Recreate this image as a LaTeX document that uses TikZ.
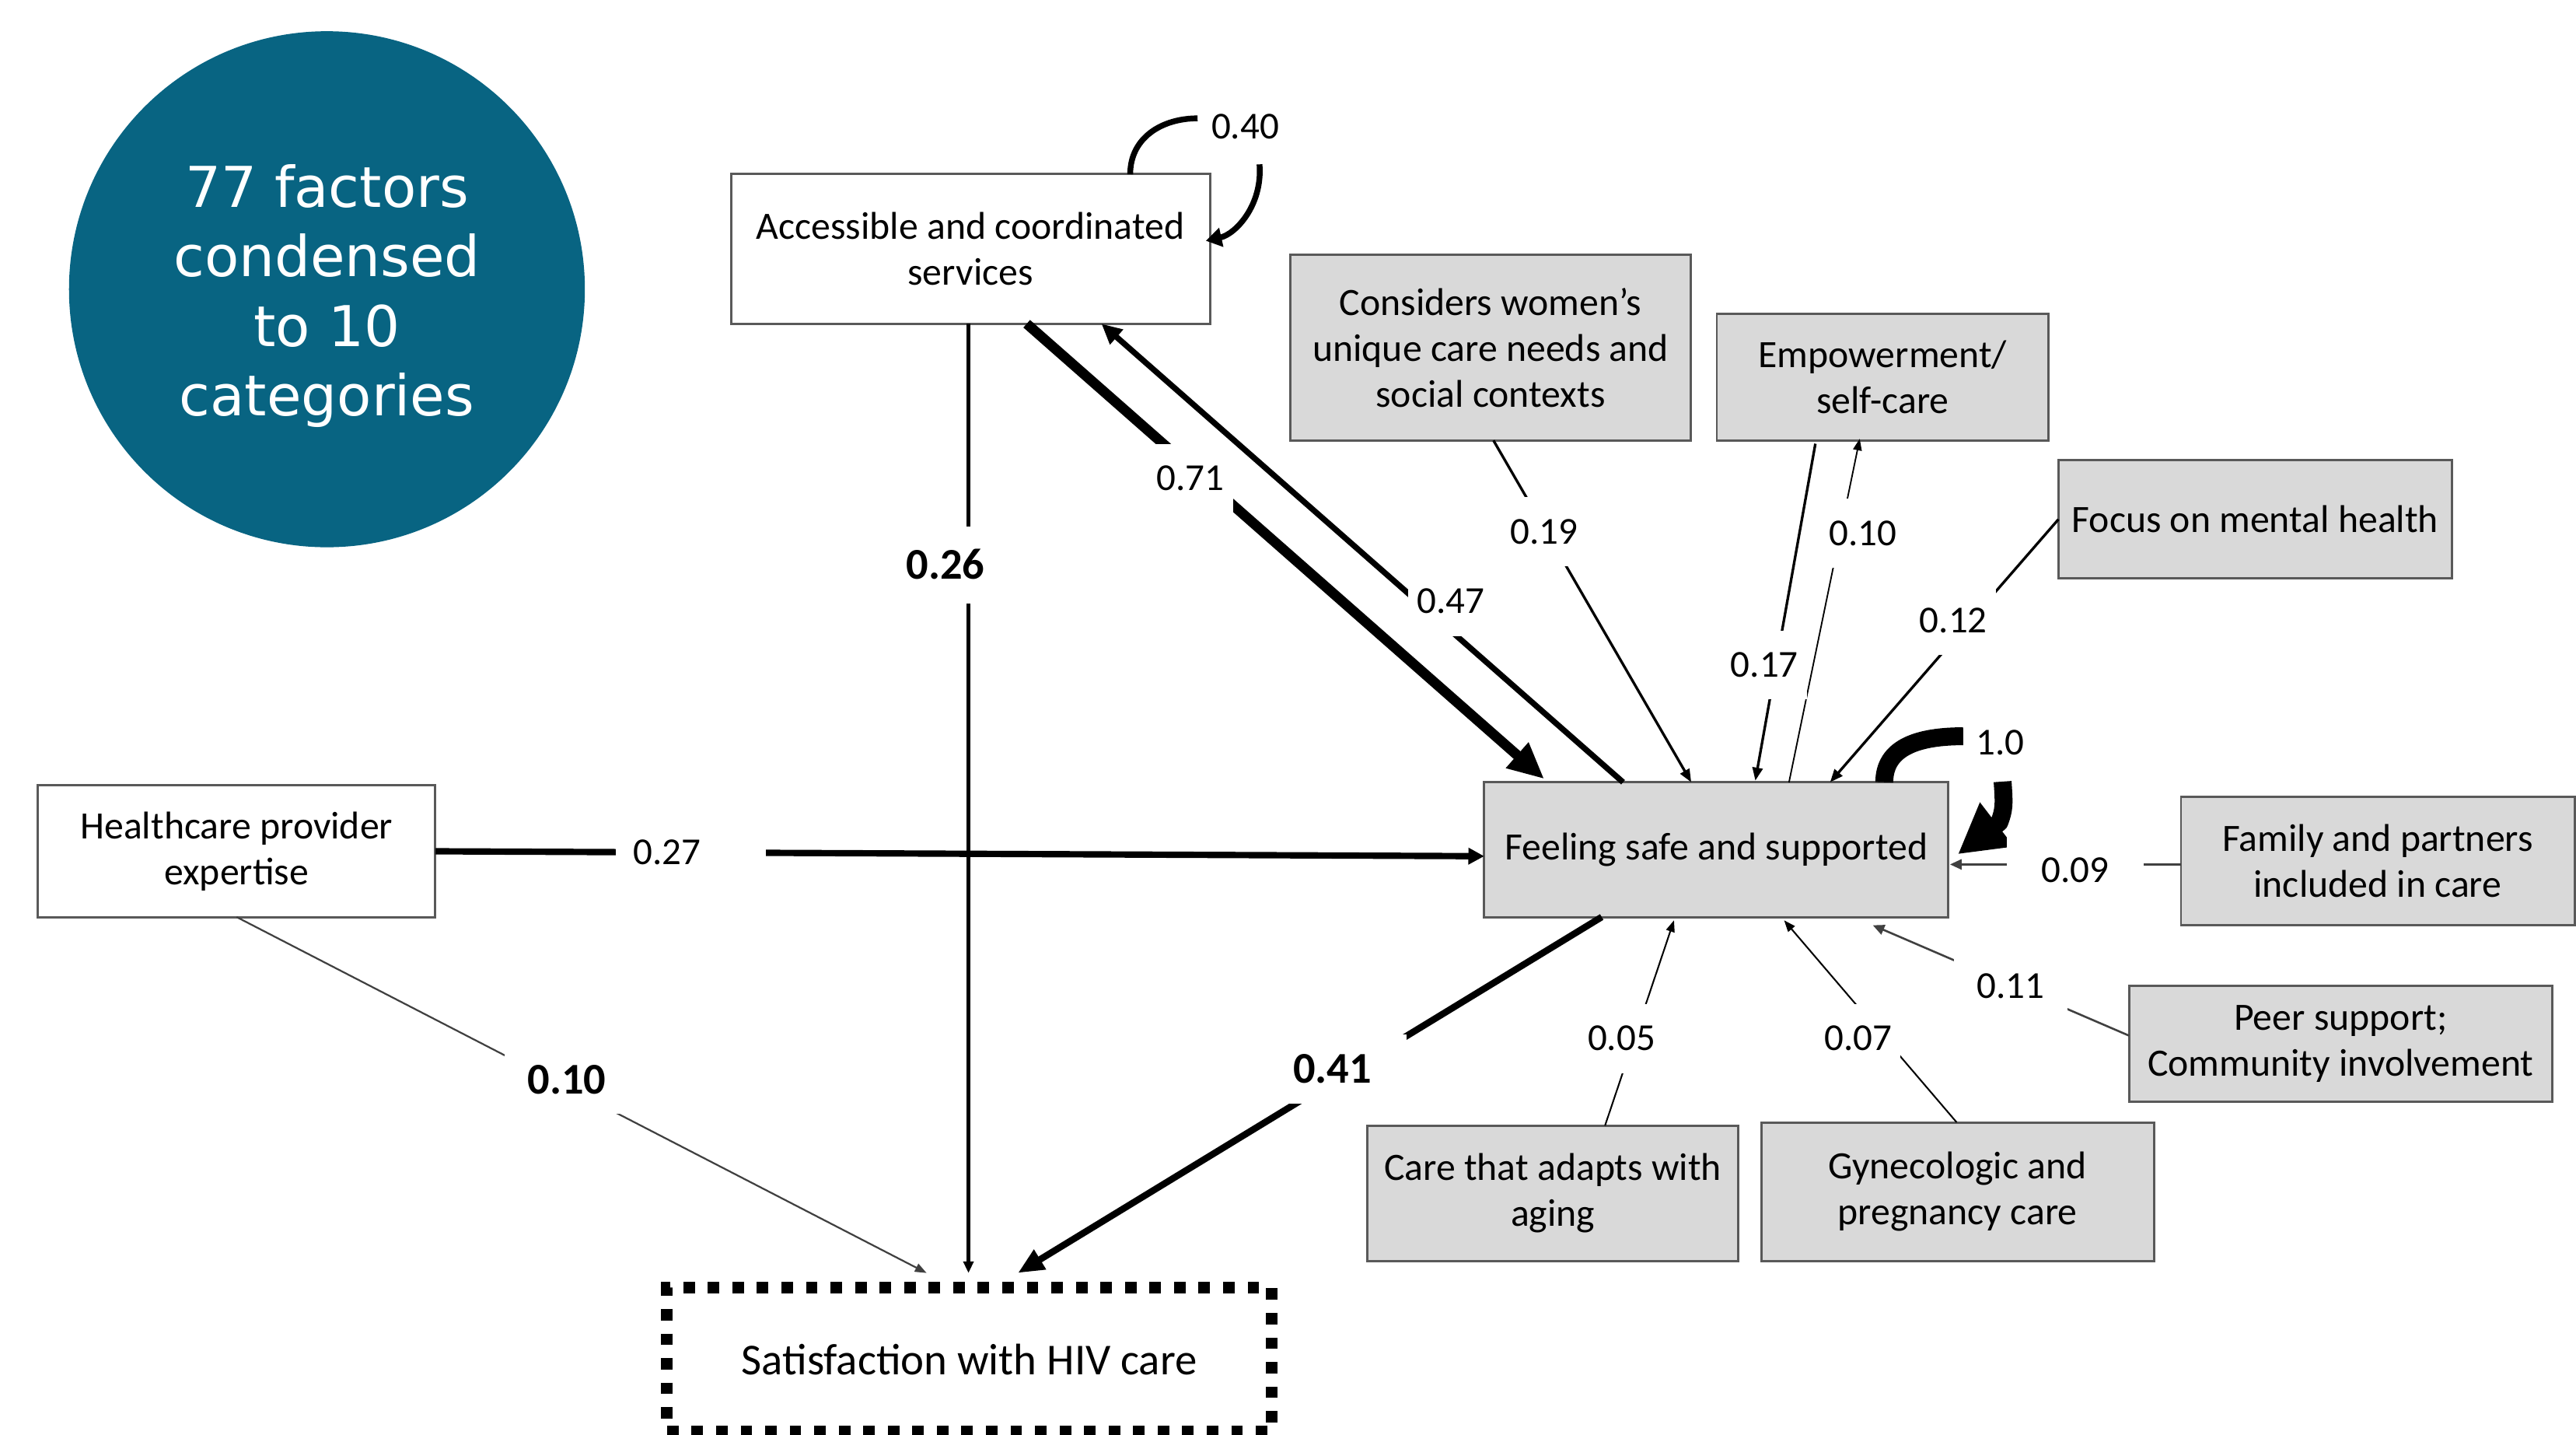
\documentclass[tikz,border=0pt]{standalone}
\usepackage{fontspec}
\setmainfont{Carlito}
\newfontfamily\circfont{DejaVu Sans}
\usetikzlibrary{arrows.meta,calc}
\definecolor{tealc}{RGB}{8,100,130}
\definecolor{boxgray}{RGB}{217,217,217}
\begin{document}
\begin{tikzpicture}[x=0.02cm,y=-0.02cm,
  box/.style={draw=black!65, line width=0.8pt, inner sep=0pt, outer sep=0pt, align=center, font=\fontsize{13.4}{15.9}\selectfont},
  wbox/.style={box, fill=white},
  gbox/.style={box, fill=boxgray},
  lbl/.style={fill=white, inner xsep=3pt, inner ysep=7.7pt, text height=8.4pt, text depth=0pt, font=\fontsize{13.2}{15.9}\selectfont},
  blbl/.style={fill=white, inner xsep=6pt, inner ysep=7.1pt, text height=9.6pt, text depth=0pt, font=\fontsize{15.2}{18}\selectfont\bfseries},
  tip/.style 2 args={arrows={-Triangle[length=#1,width=#2]}},
]
\useasboundingbox (0,0) rectangle (1568,873);

% ---------- nodes ----------
\node[circle, fill=tealc, minimum size=314*0.02cm, inner sep=0pt, text=white, align=center,
      font=\circfont\fontsize{19.5}{24.1}\selectfont] (circ) at (199,176) {\rule{0pt}{19.5pt}77 factors\\condensed\\to 10\\categories};

\node[wbox, minimum width=291.5*0.02cm, minimum height=91*0.02cm] (acc) at (590.7,151.5) {Accessible and coordinated\\services};
\node[gbox, minimum width=243.5*0.02cm, minimum height=113*0.02cm] (cons) at (907.3,211.5) {Considers women’s\\unique care needs and\\social contexts};
\node[gbox, minimum width=202*0.02cm, minimum height=77*0.02cm] (emp) at (1146,229.5) {Empowerment/\\self-care};
\node[gbox, minimum width=239.5*0.02cm, minimum height=72*0.02cm] (focus) at (1372.7,316) {Focus on mental health};
\node[gbox, minimum width=282.5*0.02cm, minimum height=82*0.02cm] (feel) at (1044.7,517) {Feeling safe and supported};
\node[gbox, minimum width=239.5*0.02cm, minimum height=78*0.02cm] (fam) at (1447.3,524) {Family and partners\\included in care};
\node[gbox, minimum width=257.5*0.02cm, minimum height=70.5*0.02cm] (peer) at (1424.7,635.2) {Peer support;\\Community involvement};
\node[gbox, minimum width=225.5*0.02cm, minimum height=82.5*0.02cm] (care) at (945.2,726.2) {Care that adapts with\\aging};
\node[gbox, minimum width=239*0.02cm, minimum height=84.5*0.02cm] (gyn) at (1191.5,725.2) {Gynecologic and\\pregnancy care};
\node[wbox, minimum width=242*0.02cm, minimum height=80*0.02cm] (hc) at (144,518) {Healthcare provider\\expertise};
\node[draw=black, line width=4pt, dash pattern=on 4pt off 4.5pt, fill=white, inner sep=0pt, outer sep=0pt,
      minimum width=368*0.02cm, minimum height=87.4*0.02cm, font=\fontsize{15.3}{18}\selectfont] (sat) at (590,827.3) {Satisfaction with HIV care};

% ---------- connectors ----------
% 0.26
\draw[line width=1.25pt, tip={4pt}{3.5pt}] ($(acc.south west)+(144.5,0)$) -- ($(sat.north west)+(183.5,-9)$);
% 0.71
\draw[line width=3.5pt, tip={12.5pt}{11pt}] ($(acc.south west)+(180,0)$) -- ($(feel.north west)+(36.5,-2)$);
% 0.47
\draw[line width=2pt, tip={7pt}{6.5pt}] ($(feel.north west)+(84.5,0)$) -- ($(acc.south west)+(225.5,0)$);
% 0.19
\draw[line width=0.9pt, tip={4.5pt}{3.5pt}] ($(cons.south west)+(123.5,0)$) -- ($(feel.north west)+(126,0)$);
% 0.17
\draw[line width=0.9pt, tip={4.5pt}{3.5pt}] ($(emp.south west)+(60,2)$) -- ($(feel.north west)+(165,-1)$);
% 0.10 (to empowerment)
\draw[line width=0.5pt, tip={4pt}{3pt}] ($(feel.north west)+(185.5,0)$) -- ($(emp.south west)+(87,-1)$);
% 0.12
\draw[line width=0.9pt, tip={4.5pt}{3.5pt}] (focus.west) -- ($(feel.north west)+(210.5,0)$);
% 1.0 self loop
\draw[line width=6.2pt] ($(feel.north west)+(243.5,0)$) .. controls +(0,-22) and +(-26,0) .. ($(feel.north west)+(291.5,-28)$);
\draw[line width=6.2pt, line join=round, tip={17pt}{18pt}] ($(feel.north east)+(33,-0.4)$) .. controls +(1,14) and +(3,-8) .. ($(feel.north east)+(31,24.5)$) -- ($(feel.east)+(5.8,2.8)$);
% 0.40 self loop
\draw[line width=2pt] ($(acc.north west)+(243,0)$) .. controls +(0,-22) and +(-22,0) .. ($(acc.north east)+(-7.5,-34)$);
\draw[line width=2pt, tip={5.5pt}{6.5pt}] ($(acc.north east)+(30.2,-6)$) .. controls +(2,25) and +(18,-4) .. ($(acc.east)+(-2.5,-5)$);
% 0.27
\draw[line width=2.2pt, tip={5.5pt}{5.5pt}] (hc.east) -- ($(feel.west)+(0,4)$);
% 0.10 (healthcare -> satisfaction)
\draw[line width=0.6pt, black!75, tip={4pt}{3pt}] (hc.south) -- ($(sat.north west)+(158,-9)$);
% 0.41
\draw[line width=2.3pt, tip={9pt}{7.5pt}] ($(feel.south west)+(71.5,0)$) -- ($(sat.north west)+(213.6,-9)$);
% 0.09
\draw[line width=0.7pt, black!75, tip={4pt}{3.5pt}] ($(fam.west)+(0,2)$) -- ($(feel.east)+(1,9)$);
% 0.11
\draw[line width=0.7pt, black!75, tip={4pt}{3.5pt}] ($(peer.west)+(0,-5)$) -- ($(feel.south east)+(-46,5)$);
% 0.05
\draw[line width=0.55pt, tip={4pt}{3pt}] ($(care.north west)+(144.5,0)$) -- ($(feel.south west)+(115.5,2)$);
% 0.07
\draw[line width=0.55pt, tip={4pt}{3pt}] ($(gyn.north west)+(119,0)$) -- ($(feel.south west)+(182.5,2)$);

% ---------- labels ----------
\node[lbl] (l040) at (758,77) {0.40};
\node[blbl, inner ysep=8.5pt] (l026) at (575.5,344) {0.26};
\node[lbl] (l071) at (724.6,291) {0.71};
\node[lbl] (l047) at (883,366) {0.47};
\node[lbl] (l019) at (940,323.5) {0.19};
\node[lbl] (l010e) at (1134,324.5) {0.10};
\node[lbl] (l017) at (1074,404.5) {0.17};
\node[lbl] (l012) at (1189,377.5) {0.12};
\node[lbl] (l10) at (1217.5,452) {1.0};
\node[lbl, inner xsep=6pt] (l027) at (420.5,518.5) {0.27\hspace*{16.6pt}};
\node[blbl, inner xsep=8pt] (l010h) at (345,657) {0.10};
\node[blbl, inner xsep=12pt] (l041) at (811,650.5) {0.41};
\node[lbl, inner xsep=12pt] (l009) at (1263,529.5) {0.09};
\node[lbl, inner xsep=8pt] (l011) at (1224,600) {0.11};
\node[lbl] (l005) at (987,632) {0.05};
\node[lbl] (l007) at (1131,632) {0.07};
\end{tikzpicture}
\end{document}
